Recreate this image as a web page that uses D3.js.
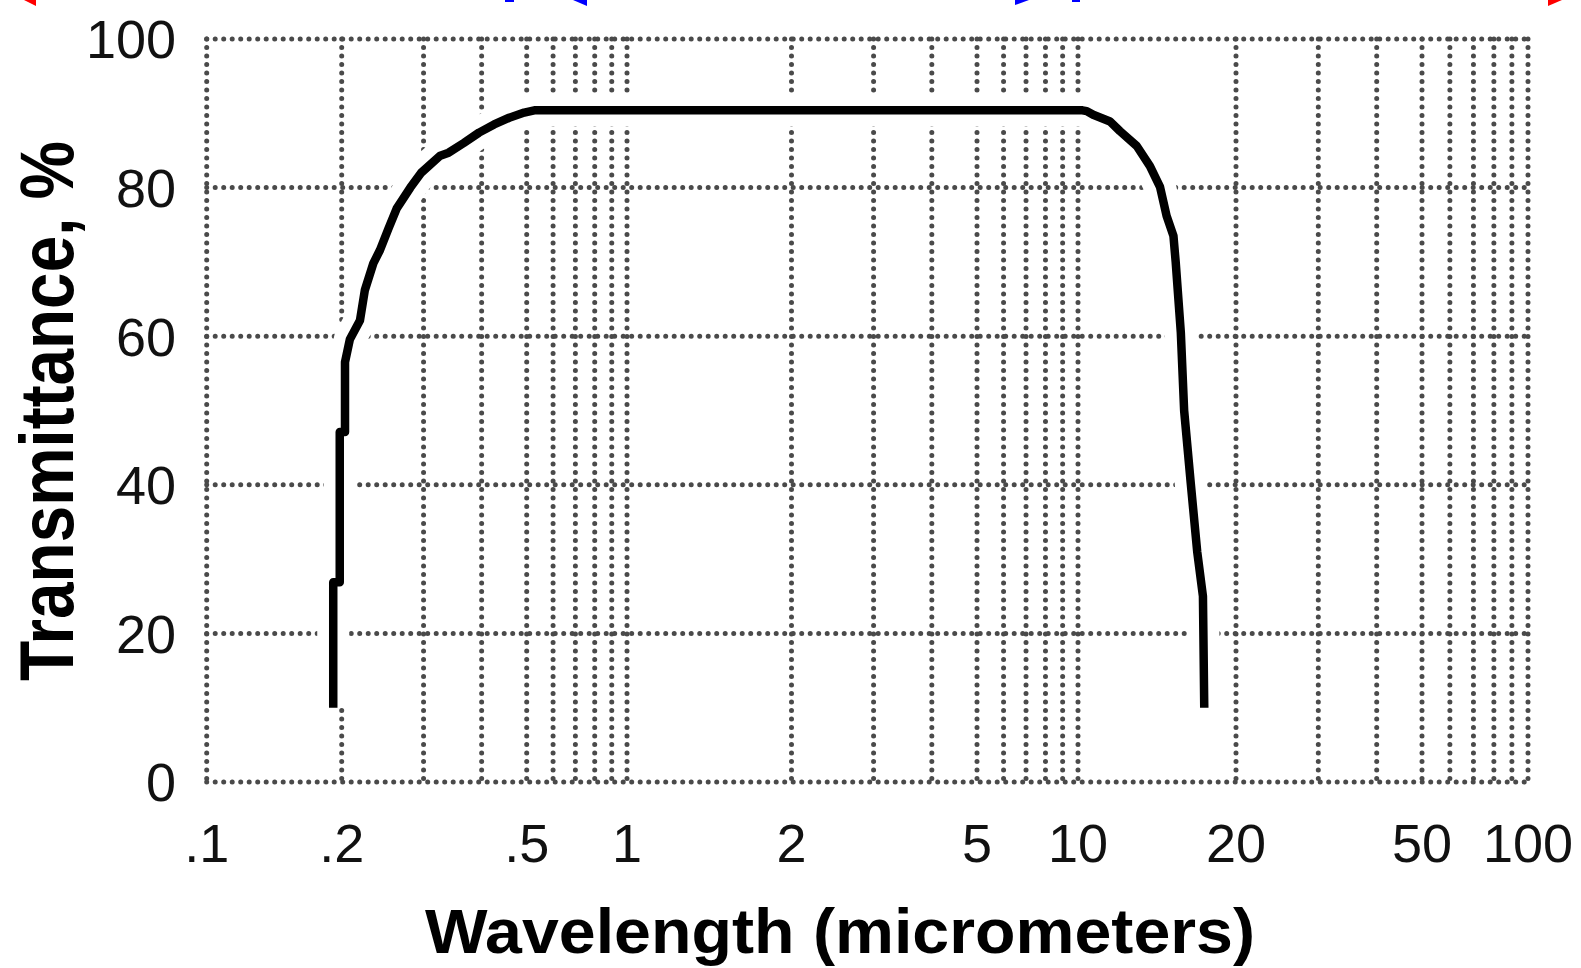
<!DOCTYPE html>
<html>
<head>
<meta charset="utf-8">
<script src="https://cdn.jsdelivr.net/npm/d3@7"></script>
<style>
  body { margin: 0; background: #fff; }
  .tick-label { font-family: "Liberation Sans", Arial, sans-serif; font-size: 54px; fill: #111; }
  .axis-title { font-family: "Liberation Sans Narrow", "Liberation Sans", Arial, sans-serif; font-weight: bold; fill: #000; }
  .grid { stroke: #4a4a4a; stroke-width: 5; stroke-dasharray: 0 8.5; stroke-linecap: round; fill: none; }
</style>
</head>
<body>
<div id="chart"></div>
<script>

// data
var wavelength = [0.1915, 0.1915, 0.198, 0.198, 0.2033, 0.2033, 0.2083, 0.2189, 0.2243, 0.2339, 0.2418,
    0.2518, 0.2627, 0.281, 0.2965, 0.3258, 0.3397, 0.3661, 0.3948, 0.4255, 0.4584, 0.4939, 0.527,
    10.2, 10.39, 10.69, 11.51, 12.02, 12.94, 13.71, 14.33, 14.75, 15.2, 15.35, 15.7, 15.93, 16.4, 16.87, 17.3, 17.4];
var transmittance = [10, 26.9, 26.9, 47.1, 47.1, 56.5, 59.6, 62.1, 66.2, 69.8, 71.6,
    74.4, 77.2, 80, 82, 84.3, 84.7, 86, 87.4, 88.5, 89.4, 90.1, 90.4,
    90.4, 90.3, 89.8, 88.9, 87.6, 85.6, 82.9, 80.1, 76.2, 73.5, 70, 60.5, 50, 40.2, 31, 25, 10];

var xTickValues = [0.1, 0.2, 0.5, 1, 2, 5, 10, 20, 50, 100];
var xTickLabels = ['.1', '.2', '.5', '1', '2', '5', '10', '20', '50', '100'];
var yTickValues = [0, 20, 40, 60, 80, 100];

var width = 1581, height = 968;

// the original grid is not quite logarithmic, so the log scale gets knots
var xKnotPx = [206.7, 341.7, 526.7, 627, 791.5, 977, 1078, 1236, 1422, 1528];

var x = d3.scaleLog().domain(xTickValues).range(xKnotPx);
var y = d3.scaleLinear().domain([0, 100]).range([782, 39]);

var svg = d3.select('#chart').append('svg')
    .attr('width', width)
    .attr('height', height);

// little arrow heads cut off at the top edge
var marks = [
    { color: '#ff0000', pts: [[24, 0], [36, 0], [36, 6]] },
    { color: '#0000ff', pts: [[505, 0], [514, 0], [514, 2], [505, 2]] },
    { color: '#0000ff', pts: [[573, 0], [587, 0], [587, 6]] },
    { color: '#0000ff', pts: [[1015, 0], [1029, 0], [1015, 5]] },
    { color: '#0000ff', pts: [[1072, 0], [1080, 0], [1080, 2], [1072, 2]] },
    { color: '#ff0000', pts: [[1548, 0], [1562, 0], [1548, 6]] }
];
svg.selectAll('polygon.mark').data(marks).enter().append('polygon')
    .attr('class', 'mark')
    .attr('points', function(d) { return d.pts.map(function(p) { return p.join(','); }).join(' '); })
    .attr('fill', function(d) { return d.color; });

// dotted grid
var grid = svg.append('g');
grid.selectAll('line.v').data(x.ticks()).enter().append('line')
    .attr('class', 'grid v')
    .attr('x1', function(d) { return x(d); }).attr('x2', function(d) { return x(d); })
    .attr('y1', y(100)).attr('y2', y(0));
grid.selectAll('line.h').data(yTickValues).enter().append('line')
    .attr('class', 'grid h')
    .attr('x1', x(0.1)).attr('x2', x(100))
    .attr('y1', function(d) { return y(d); }).attr('y2', function(d) { return y(d); });

// curve, with a white border that cuts the grid
var points = wavelength.map(function(w, i) { return [w, transmittance[i]]; });
var line = d3.line()
    .x(function(d) { return x(d[0]); })
    .y(function(d) { return y(d[1]); });

svg.append('path').datum(points)
    .attr('d', line)
    .attr('fill', 'none').attr('stroke', '#fff')
    .attr('stroke-width', 32).attr('stroke-linejoin', 'round');

svg.append('path').datum(points)
    .attr('d', line)
    .attr('fill', 'none').attr('stroke', '#000')
    .attr('stroke-width', 8.5).attr('stroke-linejoin', 'round');

// tick labels
svg.selectAll('text.ylab').data(yTickValues).enter().append('text')
    .attr('class', 'tick-label ylab')
    .attr('x', 176).attr('y', function(d) { return y(d); })
    .attr('dy', '0.36em')
    .attr('text-anchor', 'end')
    .text(function(d) { return d; });

svg.selectAll('text.xlab').data(xTickValues).enter().append('text')
    .attr('class', 'tick-label xlab')
    .attr('x', function(d) { return x(d); }).attr('y', 862)
    .attr('text-anchor', 'middle')
    .text(function(d, i) { return xTickLabels[i]; });

// axis titles
svg.append('text')
    .attr('class', 'axis-title')
    .attr('x', 840).attr('y', 953)
    .attr('text-anchor', 'middle')
    .attr('font-size', 63)
    .attr('textLength', 830).attr('lengthAdjust', 'spacingAndGlyphs')
    .text('Wavelength (micrometers)');

svg.append('text')
    .attr('class', 'axis-title')
    .attr('transform', 'translate(73,411) rotate(-90)')
    .attr('text-anchor', 'middle')
    .attr('font-size', 76)
    .attr('textLength', 540).attr('lengthAdjust', 'spacingAndGlyphs')
    .text('Transmittance, %');

</script>
</body>
</html>
